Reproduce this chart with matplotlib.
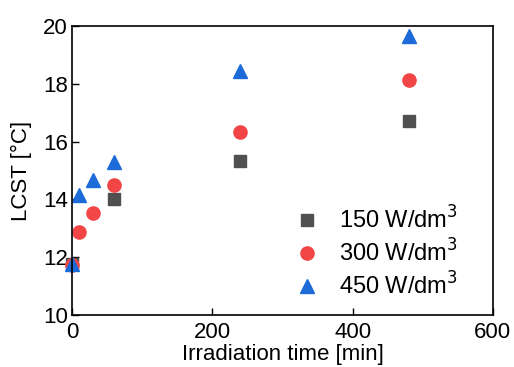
import matplotlib.pyplot as plt

plt.rcParams["font.family"] = ["Liberation Sans", "DejaVu Sans"]

time_150 = [0, 60, 240, 480]
lcst_150 = [11.75, 14.0, 15.33, 16.7]

time_300 = [0, 10, 30, 60, 240, 480]
lcst_300 = [11.72, 12.87, 13.52, 14.5, 16.32, 18.13]

time_450 = [0, 10, 30, 60, 240, 480]
lcst_450 = [11.75, 14.15, 14.67, 15.3, 18.45, 19.66]

labels = ["150 W/dm$^3$", "300 W/dm$^3$", "450 W/dm$^3$"]

fig = plt.figure(figsize=(5.14, 3.67), dpi=100)
ax = fig.add_axes([0.140, 0.142, 0.819, 0.787])

ax.plot(time_150, lcst_150, "s", color="#505050", markersize=8.5, label=labels[0], clip_on=False)
ax.plot(time_300, lcst_300, "o", color="#f24545", markersize=9.5, label=labels[1], clip_on=False)
ax.plot(time_450, lcst_450, "^", color="#1c6bd9", markersize=10.5, label=labels[2], clip_on=False)

ax.set_xlim(0, 600)
ax.set_ylim(10, 20)
ax.set_xticks([0, 200, 400, 600])
ax.tick_params(direction="in", labelsize=16, length=5, width=1, pad=5)
ax.set_yticks([10, 12, 14, 16, 18, 20])
ax.tick_params(axis="y", pad=3)
ax.set_xlabel("Irradiation time [min]", fontsize=16, labelpad=1)
ax.set_ylabel("LCST [°C]", fontsize=16, labelpad=8)
for spine in ax.spines.values():
    spine.set_linewidth(1.2)

ax.legend(loc="lower right", frameon=False, fontsize=17, handletextpad=0.35,
          labelspacing=0.25, bbox_to_anchor=(0.968, -0.02))

fig.savefig("out.png", dpi=100)
